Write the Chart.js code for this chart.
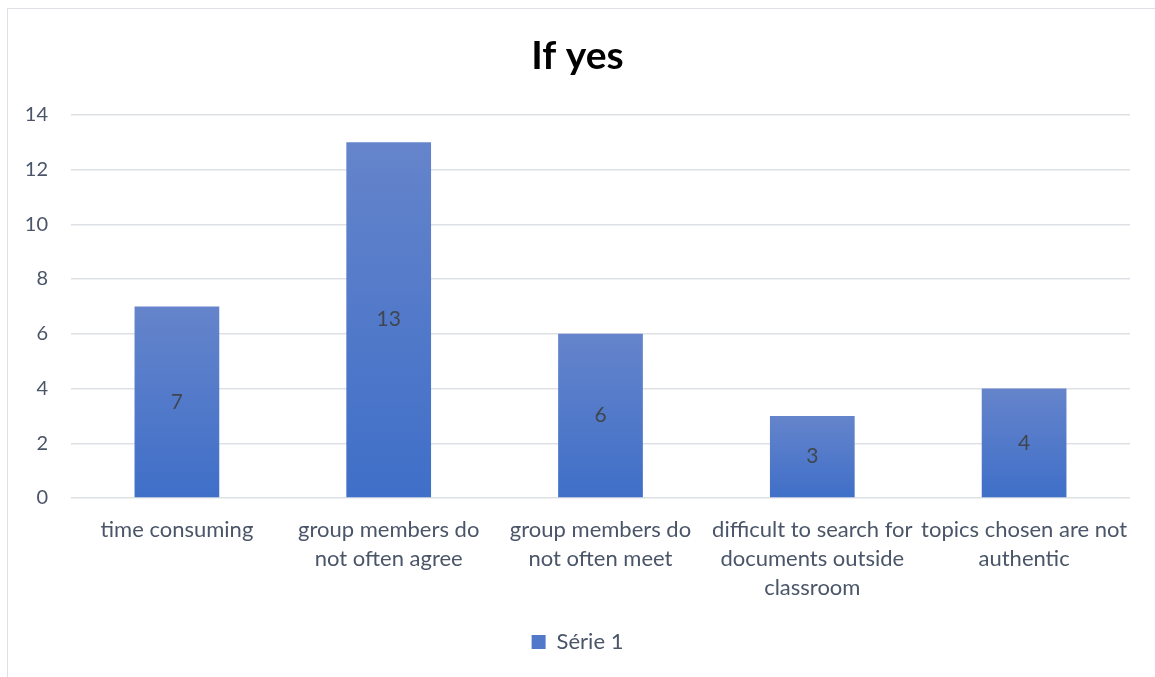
<!DOCTYPE html>
<html>
<head>
<meta charset="utf-8">
<script src="https://cdn.jsdelivr.net/npm/chart.js@4"></script>
<style>
    html, body { margin: 0; padding: 0; background: #fff; overflow: hidden; }
    #wrap { position: relative; width: 1155px; height: 677px; }
    #frame { position: absolute; left: 7px; top: 8px; width: 1200px; height: 700px; border: 1.5px solid #DDE1E6; box-sizing: border-box; }
    canvas { position: absolute; left: 0; top: 0; }
</style>
</head>
<body>
<div id="wrap">
    <div id="frame"></div>
    <canvas id="myChart" width="1155" height="677"></canvas>
</div>
<script>
// Chart data
const categories = [
    "time consuming",
    ["group members do", "not often agree"],
    ["group members do", "not often meet"],
    ["difficult to search for", "documents outside", "classroom"],
    ["topics chosen are not", "authentic"]
];
const seriesName = "Série 1";
const seriesValues = [7, 13, 6, 3, 4];
const yTicks = [0, 2, 4, 6, 8, 10, 12, 14];

const textColor = '#4A5568';
const fontFamily = 'Lato, "Open Sans", sans-serif';

// Per-bar vertical gradient, lighter on top
function barGradient(context) {
    const chart = context.chart;
    const yScale = chart.scales.y;
    if (!chart.chartArea || !yScale || context.parsed === undefined) return '#4A76C8';
    const top = yScale.getPixelForValue(context.parsed.y);
    const base = yScale.getPixelForValue(0);
    if (!isFinite(top) || !isFinite(base) || top === base) return '#4A76C8';
    const g = chart.ctx.createLinearGradient(0, top, 0, base);
    g.addColorStop(0, '#6584CB');
    g.addColorStop(1, '#3F6FC8');
    return g;
}

// Draw value labels in the middle of each bar
const centerLabels = {
    id: 'centerLabels',
    afterDatasetsDraw(chart) {
        const ctx = chart.ctx;
        const meta = chart.getDatasetMeta(0);
        ctx.save();
        ctx.font = '21px ' + fontFamily;
        ctx.fillStyle = '#404650';
        ctx.textAlign = 'center';
        ctx.textBaseline = 'middle';
        meta.data.forEach((bar, i) => {
            const mid = (bar.y + bar.base) / 2;
            ctx.fillText(String(seriesValues[i]), bar.x, mid);
        });
        ctx.restore();
    }
};

const ctx = document.getElementById('myChart').getContext('2d');
const myChart = new Chart(ctx, {
    type: 'bar',
    data: {
        labels: categories,
        datasets: [{
            label: seriesName,
            data: seriesValues,
            backgroundColor: barGradient,
            borderWidth: 0,
            barPercentage: 0.4,
            categoryPercentage: 1.0
        }]
    },
    options: {
        responsive: false,
        animation: false,
        layout: { padding: { left: 25, right: 25, top: 0, bottom: 14 } },
        plugins: {
            title: {
                display: true,
                text: 'If yes',
                color: '#000',
                font: { family: fontFamily, size: 39, weight: 'bold' },
                padding: { top: 33, bottom: 35 }
            },
            legend: {
                display: true,
                position: 'bottom',
                labels: {
                    color: textColor,
                    font: { family: fontFamily, size: 22 },
                    boxWidth: 14,
                    boxHeight: 14,
                    padding: 9,
                    generateLabels(chart) {
                        return [{
                            text: seriesName,
                            fillStyle: '#5279C9',
                            strokeStyle: '#5279C9',
                            lineWidth: 0,
                            fontColor: textColor,
                            datasetIndex: 0
                        }];
                    }
                }
            },
            tooltip: { enabled: false }
        },
        scales: {
            x: {
                grid: { display: false },
                border: { display: false },
                ticks: {
                    color: textColor,
                    font: { family: fontFamily, size: 22, lineHeight: 1.32 },
                    maxRotation: 0,
                    autoSkip: false,
                    padding: 9
                },
                afterFit(scale) { scale.height = 124; }
            },
            y: {
                min: 0,
                max: 14,
                afterBuildTicks(scale) { scale.ticks = yTicks.map(v => ({ value: v })); },
                grid: { color: '#DDE1E6', lineWidth: 1.5, drawTicks: false },
                border: { display: false },
                ticks: {
                    color: textColor,
                    font: { family: fontFamily, size: 20 },
                    padding: 23
                },
                afterFit(scale) { scale.width = 46; }
            }
        }
    },
    plugins: [centerLabels]
});
</script>
</body>
</html>
